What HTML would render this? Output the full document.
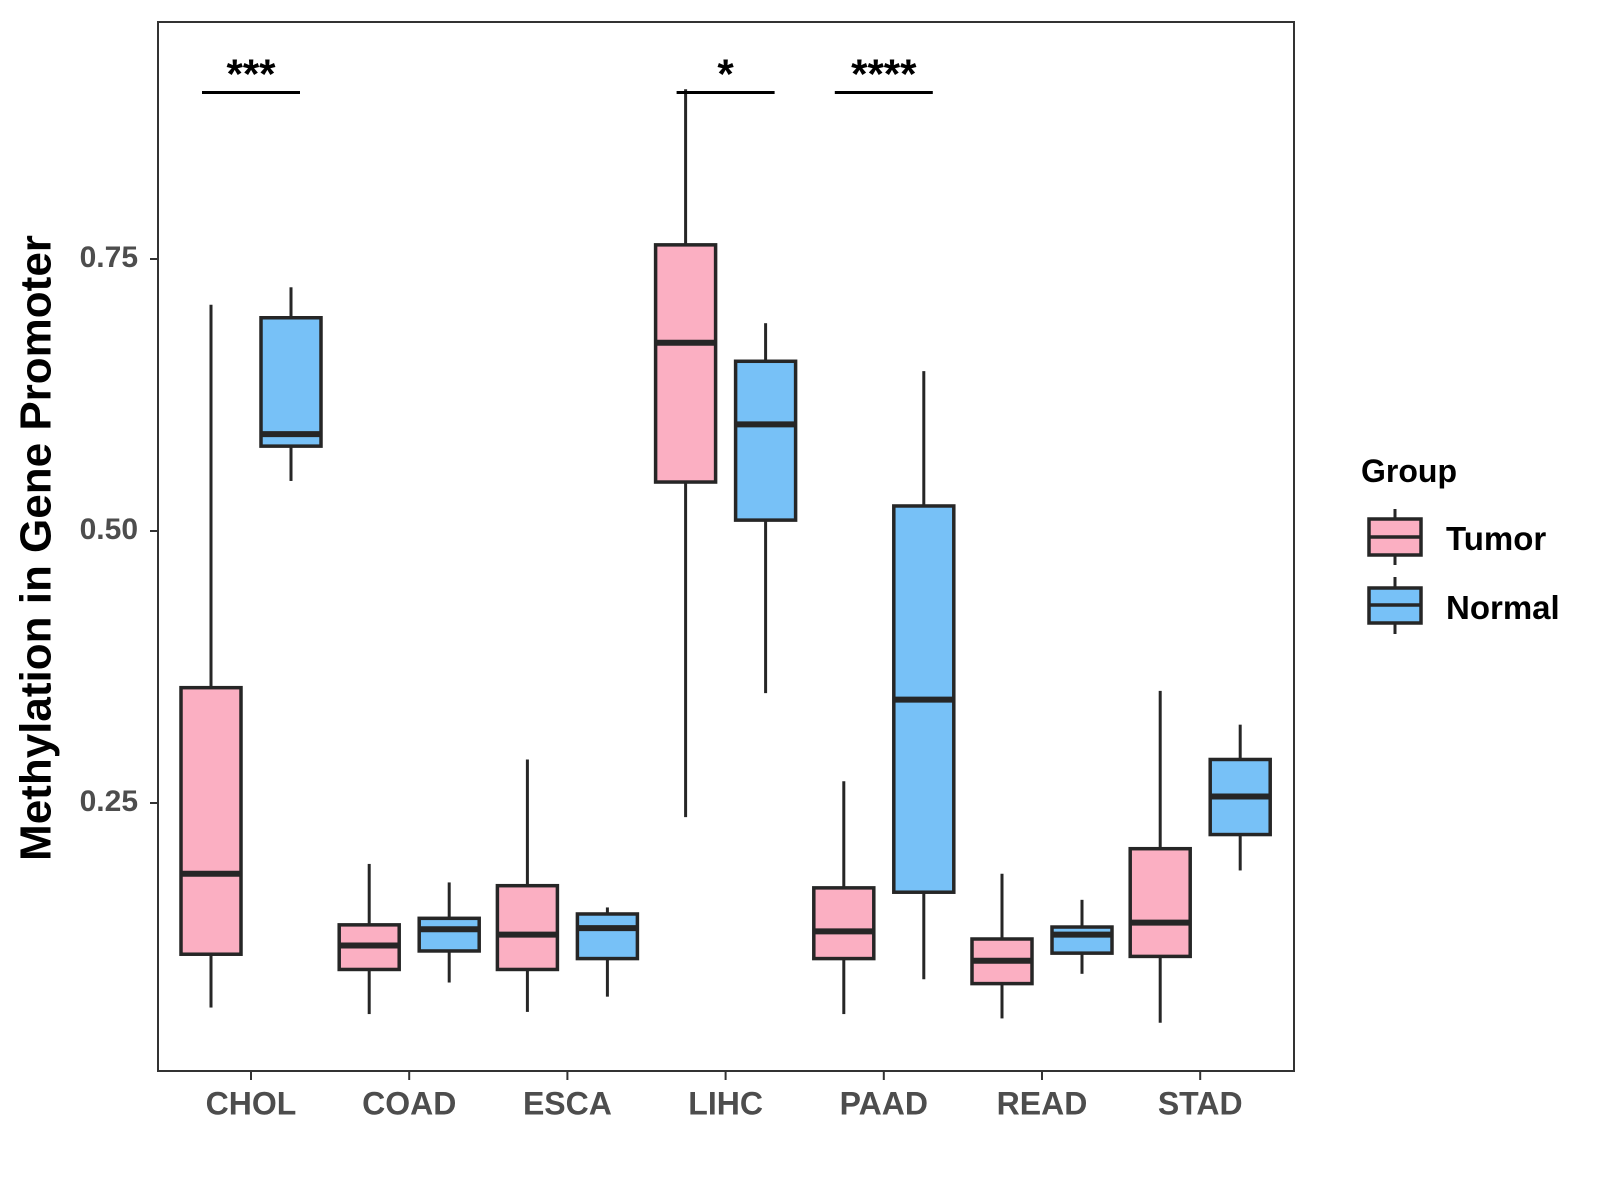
<!DOCTYPE html>
<html><head><meta charset="utf-8"><style>
body{margin:0;background:#fff}
svg{display:block;font-family:"Liberation Sans",Arial,sans-serif;font-weight:bold}
</style></head><body>
<svg id="chart" width="1600" height="1200" viewBox="0 0 1600 1200">
<rect x="0" y="0" width="1600" height="1200" fill="#fff"/>
<g id="plot"></g>
<text x="39" y="548" transform="rotate(-90 39 548)" text-anchor="middle" dominant-baseline="middle" font-size="44" fill="#000">Methylation in Gene Promoter</text>
<g>
<text x="1361" y="482" font-size="32" fill="#000">Group</text>
<g>
<line x1="1395" y1="509" x2="1395" y2="565" stroke="#262626" stroke-width="3"/>
<rect x="1369" y="519" width="52" height="36" fill="#FBAFC2" stroke="#262626" stroke-width="3.5"/>
<line x1="1369" y1="537" x2="1421" y2="537" stroke="#262626" stroke-width="3.5"/>
<text x="1446" y="550" font-size="33" fill="#000">Tumor</text>
</g>
<g>
<line x1="1395" y1="577" x2="1395" y2="634" stroke="#262626" stroke-width="3"/>
<rect x="1369" y="588" width="52" height="35" fill="#77C1F7" stroke="#262626" stroke-width="3.5"/>
<line x1="1369" y1="605" x2="1421" y2="605" stroke="#262626" stroke-width="3.5"/>
<text x="1446" y="619" font-size="33" fill="#000">Normal</text>
</g>
</g>
</svg>
<script>
const categories=["CHOL","COAD","ESCA","LIHC","PAAD","READ","STAD"];
const tumorLo=[0.062,0.056,0.058,0.237,0.056,0.052,0.048];
const tumorQ1=[0.111,0.097,0.097,0.545,0.107,0.084,0.109];
const tumorMed=[0.185,0.119,0.129,0.673,0.132,0.105,0.140];
const tumorQ3=[0.356,0.138,0.174,0.763,0.172,0.125,0.208];
const tumorHi=[0.708,0.194,0.290,0.906,0.270,0.185,0.353];
const normalLo=[0.546,0.085,0.072,0.351,0.088,0.093,0.188];
const normalQ1=[0.578,0.114,0.107,0.510,0.168,0.112,0.221];
const normalMed=[0.589,0.134,0.135,0.598,0.345,0.129,0.256];
const normalQ3=[0.696,0.144,0.148,0.656,0.523,0.136,0.290];
const normalHi=[0.724,0.177,0.154,0.691,0.647,0.161,0.322];
const yTicks=[0.25,0.50,0.75];
const yTickLabels=["0.25","0.50","0.75"];
const sigCats=["CHOL","LIHC","PAAD"];
const sigLabels=["***","*","****"];
const sigLevel=0.903;

const NS="http://www.w3.org/2000/svg";
const L=158,R=1294,T=22,B=1071;
function y(v){return 1075-1088*v;}
function xc(i){return 251+158.2*i;}
const g=document.getElementById('plot');
function mk(tag,attrs,parent){const e=document.createElementNS(NS,tag);for(const k in attrs)e.setAttribute(k,attrs[k]);(parent||g).appendChild(e);return e;}

const frame=mk('rect',{x:L,y:T,width:R-L,height:B-T,fill:'none',stroke:'#333',"stroke-width":2});



yTicks.forEach((v,i)=>{
  const t=mk('line',{x1:L-8,x2:L,y1:y(v),y2:y(v),stroke:'#333',"stroke-width":2});
  
  
  const tx=mk('text',{x:L-20,y:y(v),"text-anchor":'end',"dominant-baseline":'middle',"font-size":30,fill:'#4d4d4d'});
  tx.textContent=yTickLabels[i];
  
  
});
categories.forEach((c,i)=>{
  const t=mk('line',{x1:xc(i),x2:xc(i),y1:B,y2:B+9,stroke:'#333',"stroke-width":2});
  
  
  const tx=mk('text',{x:xc(i),y:1106,"text-anchor":'middle',"dominant-baseline":'middle',"font-size":32,fill:'#4d4d4d'});
  tx.textContent=c;
  
  
});
function box(cx,lo,q1,med,q3,hi,fill,name){
  const gg=mk('g',{});
  
  
  mk('line',{x1:cx,x2:cx,y1:y(hi),y2:y(q3),stroke:'#262626',"stroke-width":3},gg);
  mk('line',{x1:cx,x2:cx,y1:y(q1),y2:y(lo),stroke:'#262626',"stroke-width":3},gg);
  mk('rect',{x:cx-30,y:y(q3),width:60,height:y(q1)-y(q3),fill:fill,stroke:'#262626',"stroke-width":3.5},gg);
  mk('line',{x1:cx-30,x2:cx+30,y1:y(med),y2:y(med),stroke:'#262626',"stroke-width":6},gg);
}
categories.forEach((c,i)=>{
  box(xc(i)-40,tumorLo[i],tumorQ1[i],tumorMed[i],tumorQ3[i],tumorHi[i],'#FBAFC2','box-tumor-'+c.toLowerCase());
  box(xc(i)+40,normalLo[i],normalQ1[i],normalMed[i],normalQ3[i],normalHi[i],'#77C1F7','box-normal-'+c.toLowerCase());
});
sigCats.forEach((c,k)=>{
  const i=categories.indexOf(c);
  const l=mk('line',{x1:xc(i)-49,x2:xc(i)+49,y1:y(sigLevel),y2:y(sigLevel),stroke:'#000',"stroke-width":3});
  
  
  const t=mk('text',{x:xc(i),y:y(sigLevel)-4,"text-anchor":'middle',"font-size":42,fill:'#000'});
  t.textContent=sigLabels[k];
  
  
});
</script>
</body></html>
